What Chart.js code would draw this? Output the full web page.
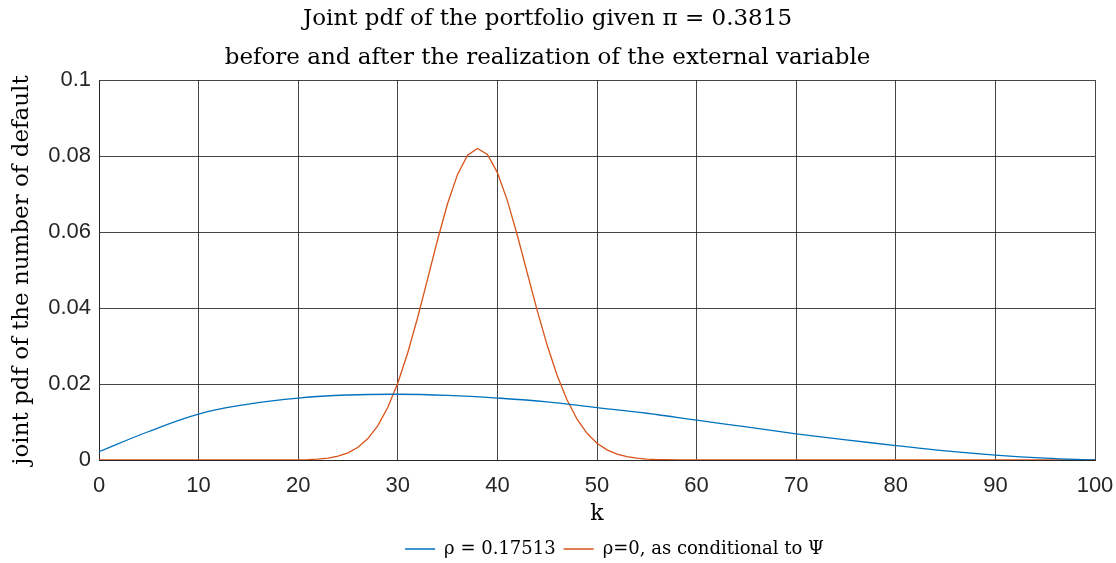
<!DOCTYPE html>
<html>
<head>
<meta charset="utf-8">
<script src="https://cdn.jsdelivr.net/npm/chart.js@4.4.1/dist/chart.umd.min.js"></script>
<style>
  html, body { margin: 0; padding: 0; background: #fff; }
  #wrap { width: 1116px; height: 563px; }
</style>
</head>
<body>
<div id="wrap"><canvas id="chart" width="1116" height="563"></canvas></div>
<script>
// valori
const titleLines = ['Joint pdf of the portfolio given \u03C0 = 0.3815',
                    'before and after the realization of the external variable'];
const xLabel = 'k';
const yLabel = 'joint pdf of the number of default';
const seriesNames = ['\u03C1 = 0.17513', '\u03C1=0, as conditional to \u03A8'];

// rho = 0.17513, letto ogni 5 valori di k
const blueK = [0, 5, 10, 15, 20, 25, 30, 35, 40, 45, 50, 55, 60, 65, 70, 75, 80, 85, 90, 95, 100];
const blueVals = [0.0022, 0.0075, 0.0121, 0.0147, 0.0163, 0.0171, 0.0173, 0.0170, 0.0163, 0.0153,
                  0.0138, 0.0123, 0.0105, 0.0087, 0.0069, 0.0053, 0.0038, 0.0024, 0.0013, 0.0005, 0.0000];

// rho = 0, un valore per ogni k da 0 a 100
const orangeK = Array.from({ length: 101 }, (_, i) => i);
const orangeVals = [
  0, 0, 0, 0, 0, 0, 0, 0, 0, 0,                                                   // 0-9
  0, 0, 0, 0, 0, 0, 0, 0, 0, 0.00002,                                             // 10-19
  0.00005, 0.00011, 0.00024, 0.00051, 0.00100, 0.00188, 0.00334, 0.00564, 0.00907, 0.01389, // 20-29
  0.02028, 0.02824, 0.03756, 0.04774, 0.05802, 0.06749, 0.07516, 0.08019, 0.08200, 0.08041, // 30-39
  0.07563, 0.06827, 0.05915, 0.04921, 0.03932, 0.03018, 0.02226, 0.01577, 0.01074, 0.00703, // 40-49
  0.00442, 0.00267, 0.00155, 0.00087, 0.00047, 0.00024, 0.00012, 0.00006, 0.00003, 0.00001, // 50-59
  0, 0, 0, 0, 0, 0, 0, 0, 0, 0,                                                   // 60-69
  0, 0, 0, 0, 0, 0, 0, 0, 0, 0,                                                   // 70-79
  0, 0, 0, 0, 0, 0, 0, 0, 0, 0,                                                   // 80-89
  0, 0, 0, 0, 0, 0, 0, 0, 0, 0, 0                                                 // 90-100
];

const xTickLabels = ['0', '10', '20', '30', '40', '50', '60', '70', '80', '90', '100'];
const yTickLabels = ['0', '0.02', '0.04', '0.06', '0.08', '0.1'];

const serif = '"DejaVu Serif", "Liberation Serif", serif';
const sans = '"Liberation Sans", Arial, sans-serif';
const gridColor = 'rgba(38,38,38,0.85)';

// sposta un po' la legenda (in MATLAB non e' centrata sul canvas)
const legendShift = {
  id: 'legendShift',
  afterLayout(chart) {
    const lg = chart.legend;
    lg.left += 67; lg.right += 67;
    lg.top += 5; lg.bottom += 5;
  }
};

const config = {
  type: 'line',
  data: {
    datasets: [{
      label: seriesNames[0],
      data: blueK.map((k, i) => ({ x: k, y: blueVals[i] })),
      borderColor: '#0072BD',
      backgroundColor: '#0072BD',
      borderWidth: 1.3,
      pointRadius: 0,
      tension: 0.4,
      fill: false
    }, {
      label: seriesNames[1],
      data: orangeK.map((k, i) => ({ x: k, y: orangeVals[i] })),
      borderColor: '#D95319',
      backgroundColor: '#D95319',
      borderWidth: 1.3,
      pointRadius: 0,
      tension: 0,
      fill: false
    }]
  },
  options: {
    responsive: false,
    animation: false,
    layout: { padding: { left: 0, right: 21, top: 0, bottom: 0 } },
    plugins: {
      title: {
        display: true,
        text: titleLines,
        color: '#000',
        font: { family: serif, size: 23, weight: 'normal', lineHeight: '39px' },
        padding: { top: 0, bottom: 2 }
      },
      legend: {
        position: 'bottom',
        labels: {
          color: '#000',
          font: { family: serif, size: 18 },
          boxWidth: 30,
          boxHeight: 0,
          padding: 8
        }
      },
      tooltip: { enabled: false }
    },
    scales: {
      x: {
        type: 'linear',
        min: 0,
        max: 100,
        afterFit: s => { s.height = 67; s.paddingLeft = 0; s.paddingRight = 0; },
        ticks: {
          stepSize: 10,
          color: '#262626',
          font: { family: sans, size: 22 },
          padding: 13,
          maxRotation: 0,
          callback: (v) => xTickLabels[Math.round(v / 10)]
        },
        grid: { color: gridColor, lineWidth: 1, drawTicks: false },
        border: { color: '#262626', width: 1 },
        title: {
          display: true,
          text: xLabel,
          color: '#000',
          font: { family: serif, size: 22 },
          padding: { top: 0, bottom: 0 }
        }
      },
      y: {
        min: 0,
        max: 0.1,
        afterFit: s => { s.width = 99; },
        ticks: {
          stepSize: 0.02,
          color: '#262626',
          font: { family: sans, size: 22 },
          padding: 8,
          callback: (v) => yTickLabels[Math.round(v / 0.02)]
        },
        grid: { color: gridColor, lineWidth: 1, drawTicks: false },
        border: { color: '#262626', width: 1 },
        title: {
          display: true,
          text: yLabel,
          color: '#000',
          font: { family: serif, size: 23 },
          padding: { top: 8, bottom: 0 }
        }
      }
    }
  },
  plugins: [legendShift]
};

const ctx = document.getElementById('chart').getContext('2d');
const chart = new Chart(ctx, config);
</script>
</body>
</html>
